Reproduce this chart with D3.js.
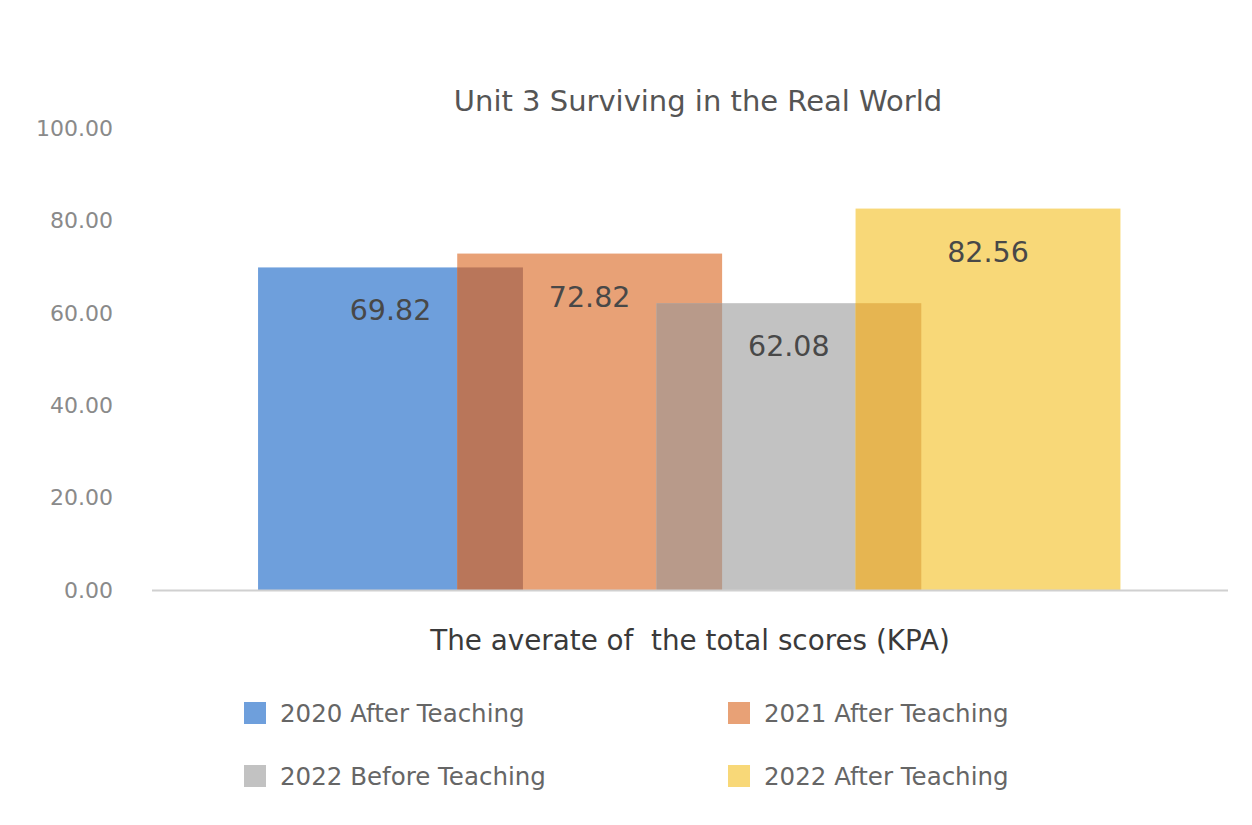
<!DOCTYPE html>
<html>
<head>
<meta charset="utf-8">
<script src="https://cdn.jsdelivr.net/npm/d3@7"></script>
<style>
  body { margin: 0; background: #fff; }
  text { font-family: "DejaVu Sans", "Noto Sans", sans-serif; }
</style>
</head>
<body>
<div id="chart"></div>
<script>
// Chart data
var series   = ["2020 After Teaching", "2021 After Teaching", "2022 Before Teaching", "2022 After Teaching"],
    values   = [69.82, 72.82, 62.08, 82.56],
    yTicks   = [0, 20, 40, 60, 80, 100];

var title  = "Unit 3 Surviving in the Real World",
    xTitle = "The averate of  the total scores (KPA)";

// Colours
var colors        = ["#6e9fdc", "#e8a176", "#c2c2c2", "#f8d878"],
    overlapColors = ["#b9765a", "#b89a8a", "#e6b551"];

var width  = 1252,
    height = 825;

var svg = d3.select("#chart")
  .append("svg")
    .attr("width", width)
    .attr("height", height);

// scales
var y = d3.scaleLinear().domain([0, 100]).range([590, 128]);

var x = d3.scalePoint()
  .domain(series)
  .range([390.5, 988]);

var barWidth = x.step() * 1.33;

// y axis labels (no line, no ticks)
svg.append("g")
    .attr("class", "y-axis")
  .selectAll("text")
  .data(yTicks)
  .enter()
  .append("text")
    .attr("x", 113)
    .attr("y", function(d) { return y(d); })
    .attr("dy", "0.35em")
    .attr("text-anchor", "end")
    .style("font-size", "22px")
    .style("fill", "#8a8a8a")
    .text(function(d) { return d3.format(".2f")(d); });

// bars
svg.append("g")
    .attr("class", "bars")
  .selectAll("rect")
  .data(series)
  .enter()
  .append("rect")
    .attr("x", function(d) { return x(d) - barWidth / 2; })
    .attr("y", function(d, i) { return y(values[i]); })
    .attr("width", barWidth)
    .attr("height", function(d, i) { return y(0) - y(values[i]); })
    .style("fill", function(d, i) { return colors[i]; });

// darker overlap between neighbouring bars
svg.append("g")
    .attr("class", "overlaps")
  .selectAll("rect")
  .data(series.slice(1))
  .enter()
  .append("rect")
    .attr("x", function(d) { return x(d) - barWidth / 2; })
    .attr("y", function(d, i) { return y(Math.min(values[i], values[i + 1])); })
    .attr("width", barWidth - x.step())
    .attr("height", function(d, i) { return y(0) - y(Math.min(values[i], values[i + 1])); })
    .style("fill", function(d, i) { return overlapColors[i]; });

// value labels
svg.append("g")
    .attr("class", "labels")
  .selectAll("text")
  .data(series)
  .enter()
  .append("text")
    .attr("x", function(d) { return x(d); })
    .attr("y", function(d, i) { return y(values[i]) + 43; })
    .attr("dy", "0.35em")
    .attr("text-anchor", "middle")
    .style("font-size", "28.5px")
    .style("fill", "#484848")
    .text(function(d, i) { return d3.format(".2f")(values[i]); });

// baseline
svg.append("line")
    .attr("x1", 152)
    .attr("x2", 1228)
    .attr("y1", y(0) + 0.5)
    .attr("y2", y(0) + 0.5)
    .style("stroke", "#d0d0d0")
    .style("stroke-width", 2);

// title
svg.append("text")
    .attr("x", 698)
    .attr("y", 101)
    .attr("dy", "0.35em")
    .attr("text-anchor", "middle")
    .style("font-size", "29px")
    .style("fill", "#555")
    .text(title);

// x axis title
svg.append("text")
    .attr("x", 690)
    .attr("y", 640)
    .attr("dy", "0.35em")
    .attr("text-anchor", "middle")
    .attr("xml:space", "preserve")
    .style("white-space", "pre")
    .style("font-size", "27.8px")
    .style("fill", "#3a3a3a")
    .text(xTitle);

// legend, two columns
var legend = svg.append("g")
    .attr("class", "legend")
  .selectAll("g")
  .data(series)
  .enter()
  .append("g")
    .attr("transform", function(d, i) {
      return "translate(" + (i % 2 === 0 ? 244 : 728) + "," + (i < 2 ? 713 : 776) + ")";
    });

legend.append("rect")
    .attr("x", 0)
    .attr("y", -11)
    .attr("width", 22)
    .attr("height", 22)
    .style("fill", function(d, i) { return colors[i]; });

legend.append("text")
    .attr("x", 36)
    .attr("y", 0)
    .attr("dy", "0.35em")
    .style("font-size", "24.5px")
    .style("fill", "#666")
    .text(function(d) { return d; });
</script>
</body>
</html>
